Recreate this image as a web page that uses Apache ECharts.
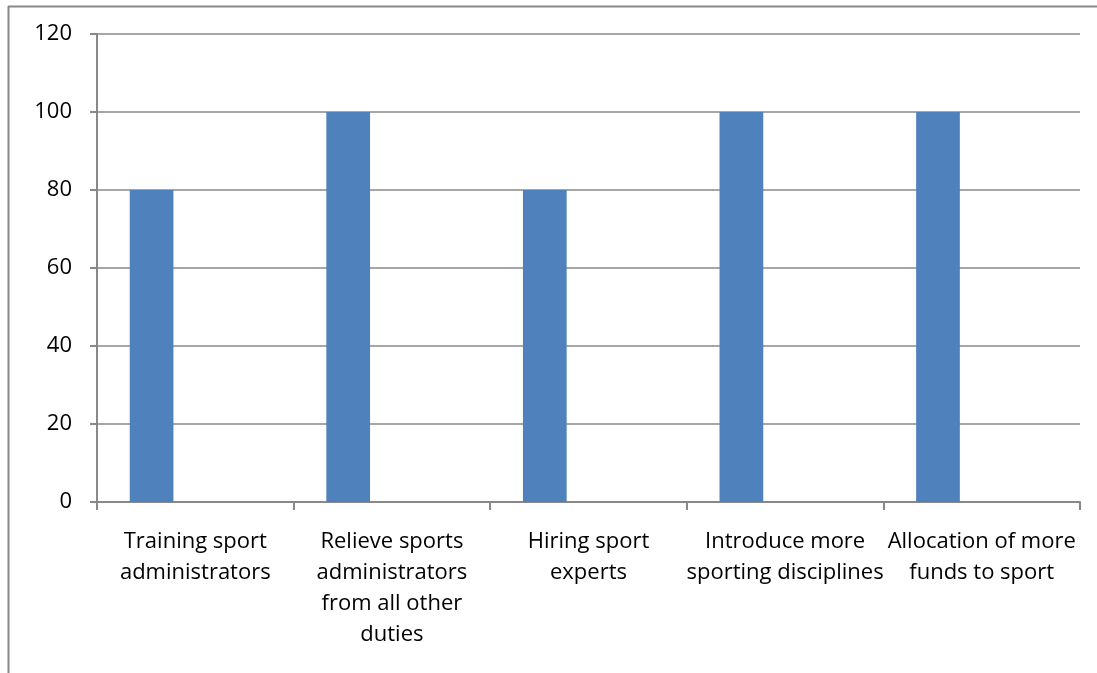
<!DOCTYPE html>
<html>
<head>
<meta charset="utf-8">
<script src="https://cdn.jsdelivr.net/npm/echarts@6/dist/echarts.min.js"></script>
<style>
html,body{margin:0;padding:0;background:#fff;}
#c{width:1097px;height:673px;}
</style>
</head>
<body>
<div id="c"></div>
<script>
const categories = [
  "Training sport\nadministrators",
  "Relieve sports\nadministrators\nfrom all other\nduties",
  "Hiring sport\nexperts",
  "Introduce more\nsporting disciplines",
  "Allocation of more\nfunds to sport"
];
const series1 = [80, 100, 80, 100, 100];
const series2 = [null, null, null, null, null];
const series3 = [null, null, null, null, null];
const yMin = 0, yMax = 120, yStep = 20;

const chart = echarts.init(document.getElementById('c'), null, {renderer: 'canvas'});
const font = '"Open Sans", Lato, sans-serif';
chart.setOption({
  animation: false,
  backgroundColor: '#fff',
  graphic: [
    {type: 'line', shape: {x1: 8, y1: 6.5, x2: 1097, y2: 6.5}, style: {stroke: '#888', lineWidth: 2}},
    {type: 'line', shape: {x1: 8.5, y1: 6, x2: 8.5, y2: 673}, style: {stroke: '#888', lineWidth: 2}}
  ],
  grid: {left: 97, right: 17, top: 34, bottom: 171, containLabel: false},
  xAxis: {
    type: 'category',
    data: categories,
    boundaryGap: true,
    axisLine: {show: true, lineStyle: {color: '#888', width: 2}},
    axisTick: {show: true, length: 8, alignWithLabel: false, lineStyle: {color: '#888', width: 2}},
    axisLabel: {interval: 0, margin: 24, color: '#000', fontFamily: font, fontSize: 22, lineHeight: 31, align: 'center'}
  },
  yAxis: {
    type: 'value',
    min: yMin, max: yMax, interval: yStep,
    axisLine: {show: true, lineStyle: {color: '#888', width: 2}},
    axisTick: {show: true, length: 7, lineStyle: {color: '#888', width: 2}},
    axisLabel: {margin: 25, color: '#000', fontFamily: font, fontSize: 22},
    splitLine: {show: true, lineStyle: {color: '#888', width: 1.5}}
  },
  series: [
    {type: 'bar', data: series1, barGap: 0, barCategoryGap: '33.3%', itemStyle: {color: '#4F81BD'}},
    {type: 'bar', data: series2, barGap: 0, barCategoryGap: '33.3%', itemStyle: {color: '#C0504D'}},
    {type: 'bar', data: series3, barGap: 0, barCategoryGap: '33.3%', itemStyle: {color: '#9BBB59'}}
  ]
});
</script>
</body>
</html>
